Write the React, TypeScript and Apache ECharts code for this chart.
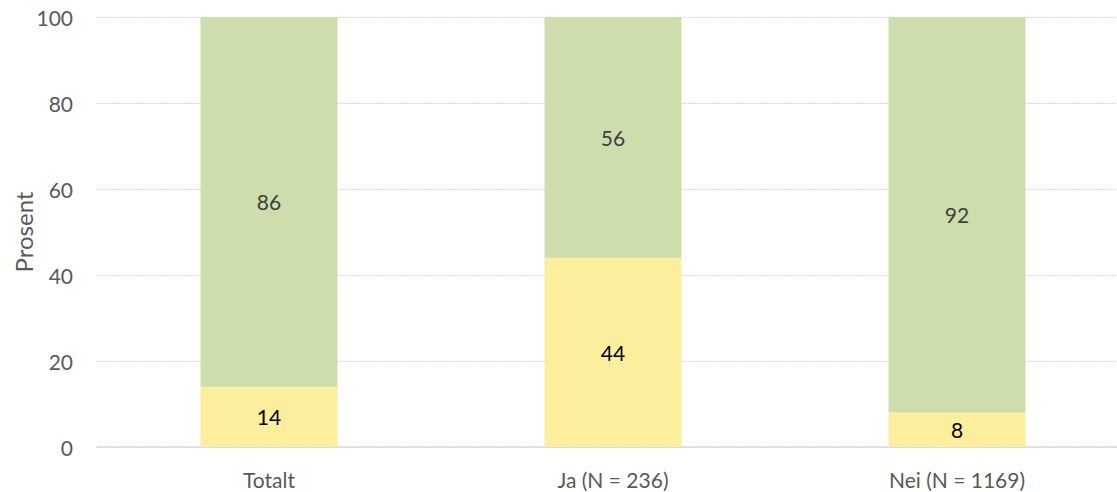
import React, { useEffect, useRef } from "react";
import * as echarts from "echarts";

const categories = ["Totalt", "Ja (N = 236)", "Nei (N = 1169)"];
const yellowValues = [14, 44, 8];
const greenValues = [86, 56, 92];
const yTicks = [0, 20, 40, 60, 80, 100];

export default function App() {
  const ref = useRef<HTMLDivElement>(null);
  useEffect(() => {
    if (!ref.current) return;
    const chart = echarts.init(ref.current, null, { renderer: "svg" });
    const font = "Lato, 'Open Sans', sans-serif";
    chart.setOption({
      animation: false,
      textStyle: { fontFamily: font },
      grid: {
        left: 97,
        width: 1032,
        top: 17,
        bottom: 45,
        containLabel: false,
        outerBoundsMode: "none",
      },
      xAxis: {
        type: "category",
        data: categories,
        axisTick: { show: false },
        axisLine: { lineStyle: { color: "#d9d9d9", width: 1.5 } },
        axisLabel: { color: "#595959", fontSize: 21, margin: 22, fontFamily: font },
      },
      yAxis: {
        type: "value",
        min: yTicks[0],
        max: yTicks[yTicks.length - 1],
        interval: 20,
        name: "Prosent",
        nameLocation: "middle",
        nameGap: 62,
        nameMoveOverlap: false,
        nameRotate: 90,
        nameTextStyle: { color: "#595959", fontSize: 24, fontFamily: font },
        axisLabel: { color: "#595959", fontSize: 21, margin: 24, fontFamily: font },
        splitLine: { lineStyle: { color: "#d9d9d9", type: [2, 1], width: 1 } },
      },
      series: [
        {
          type: "bar",
          stack: "a",
          data: yellowValues,
          barWidth: 137,
          itemStyle: { color: "#FBEE9C" },
          label: { show: true, position: "inside", color: "#000000", fontSize: 21, fontFamily: font },
        },
        {
          type: "bar",
          stack: "a",
          data: greenValues,
          barWidth: 137,
          itemStyle: { color: "#CDDDAC" },
          label: { show: true, position: "inside", color: "#404040", fontSize: 21, fontFamily: font },
        },
      ],
    });
    return () => chart.dispose();
  }, []);
  return (
    <div
      ref={ref}
      style={{ position: "absolute", left: 0, top: 0, width: 1117, height: 492, background: "#fff" }}
    />
  );
}
